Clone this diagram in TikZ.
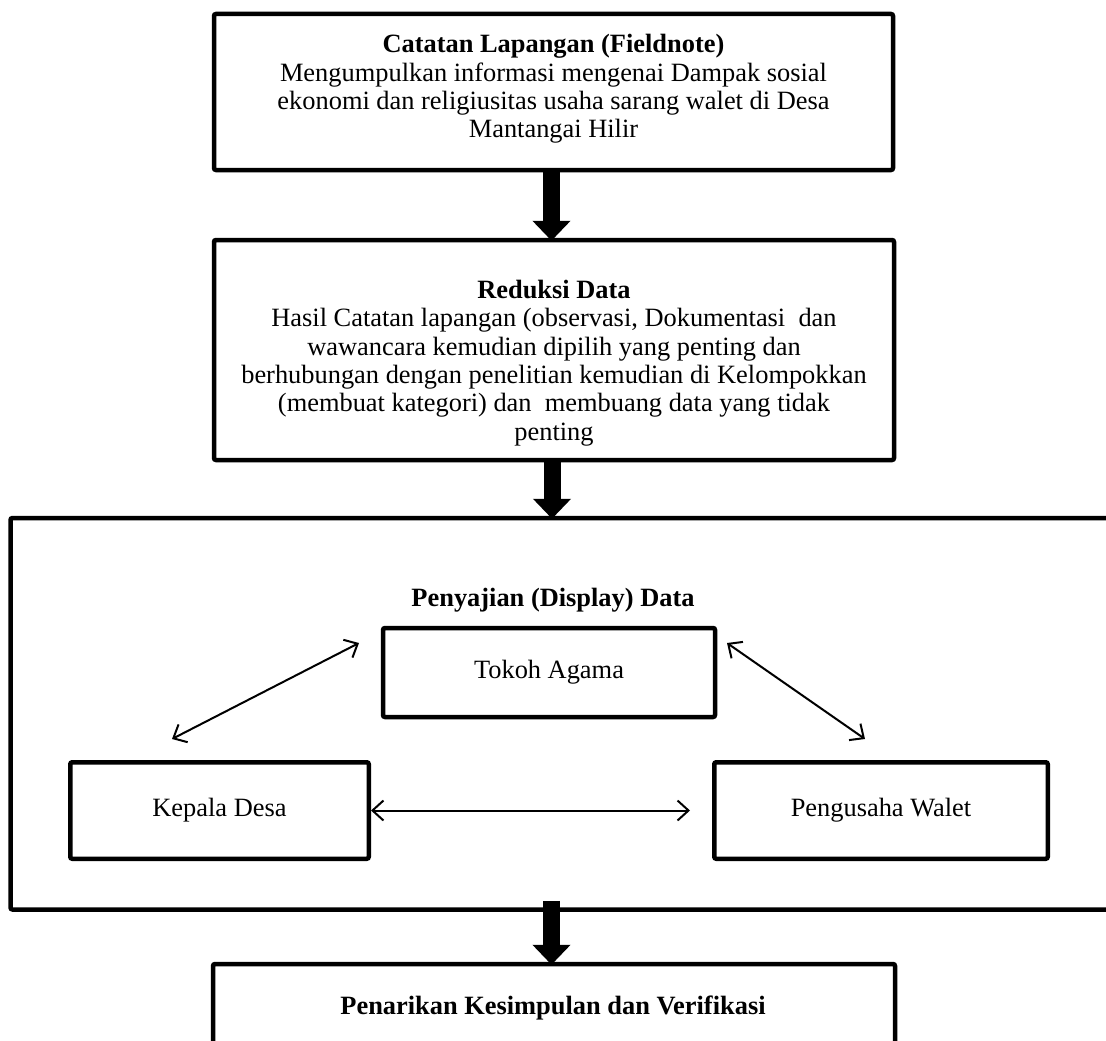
\documentclass[tikz,border=0pt]{standalone}
\usepackage{fontspec}
\setmainfont{Liberation Serif}
\usetikzlibrary{arrows.meta}
\begin{document}
\begin{tikzpicture}[x=1pt,y=-1pt,
  box/.style={draw, line width=4.5pt, rounded corners=2pt, inner sep=0pt, align=center,
              font=\fontsize{26.4}{28.3}\selectfont},
  txt/.style={inner sep=0pt, align=center, font=\fontsize{26.4}{28.3}\selectfont},
  fat/.style={line width=17pt, -{Triangle[width=37pt,length=20pt]}},
  thin/.style={line width=2pt, {Straight Barb[length=11pt,width=20pt]}-{Straight Barb[length=11pt,width=20pt]}},
]
\useasboundingbox (0,0) rectangle (1106,1041);
\clip (0,0) rectangle (1106,1041);

% top box
\node[box, minimum width=679pt, minimum height=156pt] (field) at (553.5,92) {};
\node[txt] (fieldtext) at (553.5,89)
  {\textbf{Catatan Lapangan (Fieldnote)}\\Mengumpulkan informasi mengenai Dampak sosial\\ekonomi dan religiusitas usaha sarang walet di Desa\\Mantangai Hilir};

% reduksi
\node[box, minimum width=680pt, minimum height=220pt] (reduksi) at (554,350) {};
\node[txt] (reduksitext) at (554,363)
  {\textbf{Reduksi Data}\\Hasil Catatan lapangan (observasi, Dokumentasi~ dan\\wawancara kemudian dipilih yang penting dan\\berhubungan dengan penelitian kemudian di Kelompokkan\\(membuat kategori) dan~ membuang data yang tidak\\penting};

% display big box
\node[box, minimum width=1101.5pt, minimum height=391.5pt] (display) at (561.25,713.75) {};
\node[txt, font=\fontsize{26.4}{28.3}\selectfont\bfseries] (displaytitle) at (553,600) {Penyajian (Display) Data};

\node[box, minimum width=332pt, minimum height=89pt] (tokoh) at (549,672.5) {Tokoh Agama};
\node[box, minimum width=298.5pt, minimum height=96.5pt] (kepala) at (219.5,810.5) {Kepala Desa};
\node[box, minimum width=333.5pt, minimum height=96.5pt] (pengusaha) at (881,810.5) {Pengusaha Walet};

% bottom box
\node[box, minimum width=682pt, minimum height=150pt] (kesimpulan) at (554,1039) {};
\node[txt, font=\fontsize{26.4}{28.3}\selectfont\bfseries, anchor=base] (kesimpulantext) at (553,1014) {Penarikan Kesimpulan dan Verifikasi};

% fat arrows
\draw[fat, shorten >=-3pt] ([xshift=-2pt]field.south) -- ([xshift=-2pt]field.south |- reduksi.north);
\draw[fat, shorten >=-3pt] ([xshift=-2pt]reduksi.south) -- ([xshift=-2pt]reduksi.south |- display.north);
\draw[fat, shorten >=-3pt] ([xshift=-2.5pt,yshift=11pt]kesimpulan.north |- display.south) -- ([xshift=-2.5pt]kesimpulan.north);

% thin double arrows
\coordinate (la) at (359,643);
\coordinate (lb) at (172,739);
\coordinate (ra) at (727,643);
\coordinate (rb) at (865,739);
\draw[thin] (lb) -- (la);
\draw[thin] (ra) -- (rb);
\draw[thin, shorten >=22pt] (kepala.east) -- (pengusaha.west);
\end{tikzpicture}
\end{document}
